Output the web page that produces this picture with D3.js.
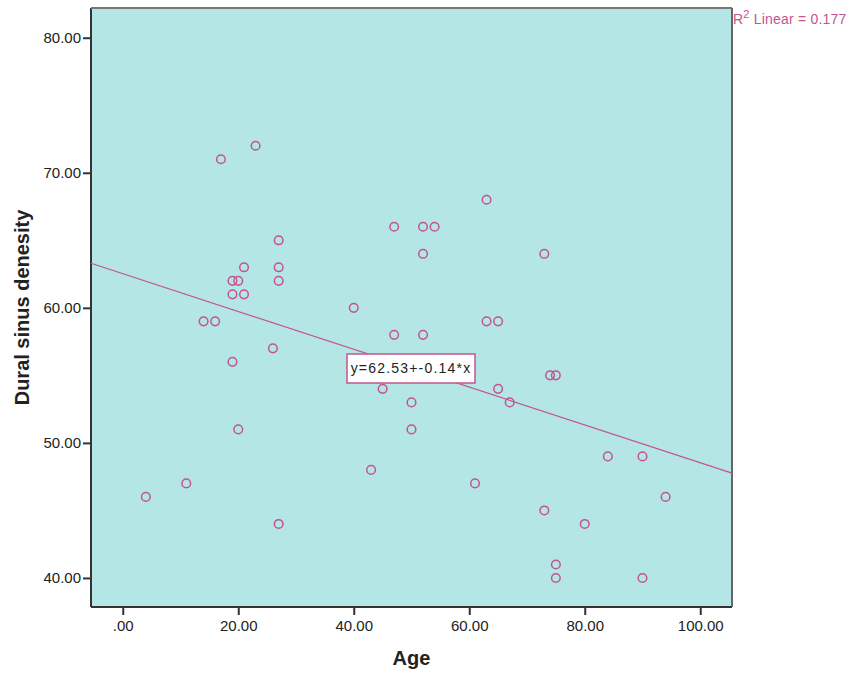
<!DOCTYPE html>
<html>
<head>
<meta charset="utf-8">
<script src="https://cdn.jsdelivr.net/npm/d3@7"></script>
<style>
  body { margin: 0; background: #fff; }
  svg { display: block; font-family: "Liberation Sans", Arial, sans-serif; }
</style>
</head>
<body>
<svg width="852" height="673"></svg>
<script>
// Age of each patient
const ages = [4, 11, 14, 16, 17, 23, 19, 19, 20, 19, 21, 21, 27, 27, 27, 26, 20, 27,
    40, 47, 52, 47, 52, 54, 52, 63, 63, 65, 73, 74, 75, 45, 50, 50, 65, 67, 43,
    61, 73, 80, 84, 90, 94, 75, 75, 90];
// Dural sinus density for each patient
const densities = [46, 47, 59, 59, 71, 72, 56, 62, 62, 61, 61, 63, 65, 63, 62, 57, 51, 44,
    60, 58, 58, 66, 66, 66, 64, 68, 59, 59, 64, 55, 55, 54, 53, 51, 54, 53, 48,
    47, 45, 44, 49, 49, 46, 41, 40, 40];
const xTicks = [0, 20, 40, 60, 80, 100];
const yTicks = [40, 50, 60, 70, 80];
// Fit line as printed on the chart
const intercept = 62.53;
const slope = -0.14;
const rSquared = 0.177;

const data = ages.map((a, i) => ({ age: a, density: densities[i] }));

// Set standards
const margin = { left: 91, top: 8, right: 120, bottom: 66 };
const width = 852, height = 673;
const pink = '#c4548f';

const x = d3.scaleLinear().domain([-5.5, 105.5]).range([margin.left, width - margin.right]);
const y = d3.scaleLinear().domain([37.85, 82.2]).range([height - margin.bottom, margin.top]);

const svg = d3.select('svg');
const fmt = d => d === 0 ? '.00' : d3.format('.2f')(d);

// Plot background
svg.append('rect')
    .attr('x', x.range()[0]).attr('y', y.range()[1])
    .attr('width', x.range()[1] - x.range()[0])
    .attr('height', y.range()[0] - y.range()[1])
    .attr('fill', '#b4e6e6')
    .attr('stroke', 'none');

// Axes
const xAxis = svg.append('g')
    .attr('transform', `translate(0,${y.range()[0]})`)
    .call(d3.axisBottom(x).tickValues(xTicks).tickFormat(fmt).tickSize(8).tickPadding(5).tickSizeOuter(0));
const yAxis = svg.append('g')
    .attr('transform', `translate(${x.range()[0]},0)`)
    .call(d3.axisLeft(y).tickValues(yTicks).tickFormat(fmt).tickSize(8).tickPadding(2).tickSizeOuter(0));

[xAxis, yAxis].forEach(g => {
    g.select('.domain').remove();
    g.selectAll('line').attr('stroke', '#333').attr('stroke-width', 2);
    g.selectAll('text').attr('fill', '#222').attr('font-size', 15);
});

// Frame around the plot
svg.append('line')
    .attr('x1', x.range()[0]).attr('x2', x.range()[0])
    .attr('y1', y.range()[1]).attr('y2', y.range()[0])
    .attr('stroke', '#333').attr('stroke-width', 2);
svg.append('line')
    .attr('x1', x.range()[0]).attr('x2', x.range()[1])
    .attr('y1', y.range()[0]).attr('y2', y.range()[0])
    .attr('stroke', '#333').attr('stroke-width', 2);
svg.append('line')
    .attr('x1', x.range()[0]).attr('x2', x.range()[1])
    .attr('y1', y.range()[1]).attr('y2', y.range()[1])
    .attr('stroke', '#777').attr('stroke-width', 2);
svg.append('line')
    .attr('x1', x.range()[1]).attr('x2', x.range()[1])
    .attr('y1', y.range()[1]).attr('y2', y.range()[0])
    .attr('stroke', '#666').attr('stroke-width', 2);

// Fit line across the whole plot
const xd = x.domain();
svg.append('line')
    .attr('x1', x(xd[0])).attr('y1', y(intercept + slope * xd[0]))
    .attr('x2', x(xd[1])).attr('y2', y(intercept + slope * xd[1]))
    .attr('stroke', pink).attr('stroke-width', 1.2);

// Points
svg.append('g').selectAll('circle')
    .data(data)
    .enter().append('circle')
    .attr('cx', d => x(d.age))
    .attr('cy', d => y(d.density))
    .attr('r', 4.3)
    .attr('fill', 'none')
    .attr('stroke', pink)
    .attr('stroke-width', 1.5);

// Equation label
const eq = svg.append('g').attr('transform', `translate(411,368)`);
eq.append('rect')
    .attr('x', -64).attr('y', -14).attr('width', 128).attr('height', 29)
    .attr('fill', '#fff').attr('stroke', pink).attr('stroke-width', 1.5);
eq.append('text')
    .attr('text-anchor', 'middle').attr('dy', '0.36em')
    .attr('font-size', 14).attr('letter-spacing', 1.2).attr('fill', '#222')
    .text(`y=${intercept}+${slope}*x`);

// R squared label
const r2 = svg.append('text')
    .attr('x', 733).attr('y', 24)
    .attr('font-size', 14).attr('letter-spacing', 0.2).attr('fill', pink);
r2.append('tspan').text('R');
r2.append('tspan').attr('dy', -6).attr('font-size', 11).text('2');
r2.append('tspan').attr('dy', 6).text(` Linear = ${rSquared}`);

// Axis titles
svg.append('text')
    .attr('x', (x.range()[0] + x.range()[1]) / 2).attr('y', 665)
    .attr('text-anchor', 'middle')
    .attr('font-size', 20).attr('font-weight', 'bold').attr('fill', '#222')
    .text('Age');
svg.append('text')
    .attr('transform', `translate(29,${(y.range()[0] + y.range()[1]) / 2}) rotate(-90)`)
    .attr('text-anchor', 'middle')
    .attr('font-size', 20).attr('font-weight', 'bold').attr('fill', '#222')
    .text('Dural sinus denesity');
</script>
</body>
</html>
